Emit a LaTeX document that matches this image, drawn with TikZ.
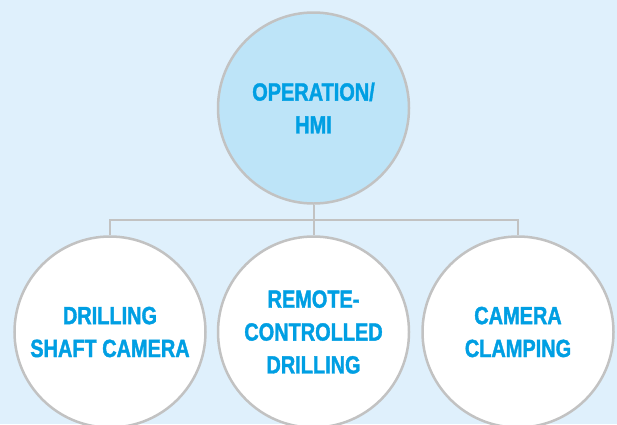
\documentclass[tikz,border=0pt]{standalone}
\usepackage{fontspec}
\setmainfont[FakeStretch=0.8, BoldFeatures={FakeBold=1.5}]{Liberation Sans}
\definecolor{bgblue}{HTML}{DFF0FC}
\definecolor{topblue}{HTML}{BDE4F8}
\definecolor{txtblue}{HTML}{009FE3}
\definecolor{rimgray}{HTML}{C2C2C2}
\begin{document}
\begin{tikzpicture}[x=1bp,y=-1bp,
  circ/.style={circle, draw=rimgray, line width=2.5bp, minimum size=191bp, inner sep=0pt,
    align=center, text=txtblue, font=\bfseries\fontsize{25}{33}\selectfont},
  conn/.style={draw=rimgray, line width=2bp}]
\useasboundingbox (0,0) rectangle (617,424);
\clip (0,0) rectangle (617,424);
\fill[bgblue] (0,0) rectangle (617,424);
\node[circ, fill=topblue] (top) at (313.5,108) {OPERATION/\\HMI};
\node[circ, fill=white] (left) at (110,332) {DRILLING\\SHAFT CAMERA};
\node[circ, fill=white] (mid) at (313.5,332) {REMOTE-\\CONTROLLED\\DRILLING};
\node[circ, fill=white] (right) at (518,332) {CAMERA\\CLAMPING};
\coordinate (bar) at (313.5,220);
\draw[conn] (top.south) -- (mid.north);
\draw[conn] (left.north) |- (bar) -| (right.north);
\end{tikzpicture}
\end{document}
